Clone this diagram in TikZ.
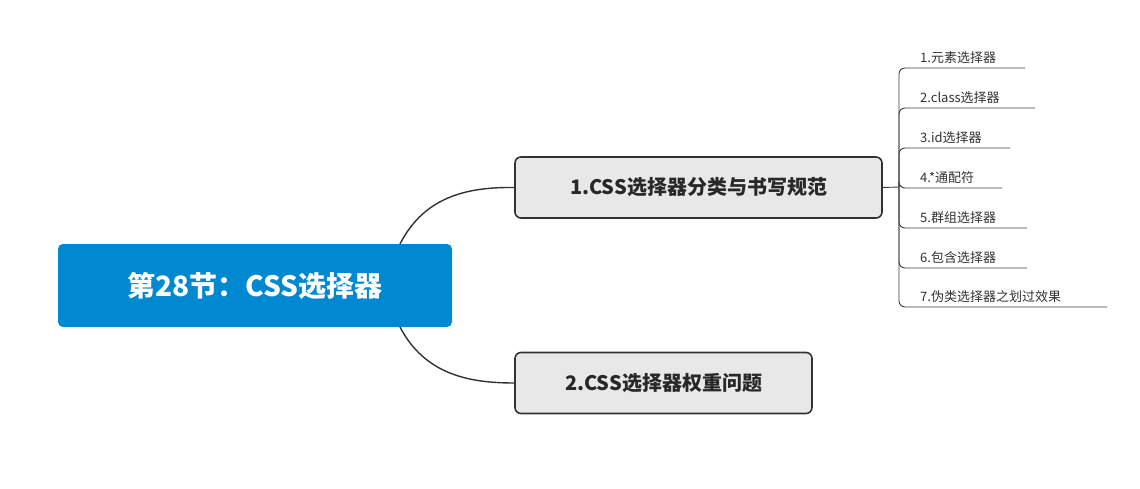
\documentclass[tikz,border=0pt]{standalone}
\usepackage{fontspec}
\setmainfont{Noto Sans CJK SC}
\begin{document}
\begin{tikzpicture}[x=1pt,y=-1pt,
  rootbox/.style={draw=none,fill={rgb,255:red,0;green,136;blue,209},rounded corners=5pt,minimum width=394pt,minimum height=83pt,text=white,font=\fontsize{28}{32}\selectfont\bfseries},
  subbox/.style={draw={rgb,255:red,50;green,50;blue,50},line width=1.6pt,fill={rgb,255:red,232;green,232;blue,232},rounded corners=6pt,minimum height=61pt,font=\fontsize{20}{24}\selectfont\bfseries,text={rgb,255:red,40;green,40;blue,40}},
  conn/.style={draw={rgb,255:red,50;green,50;blue,50},line width=1.4pt},
  leafline/.style={draw={rgb,255:red,60;green,60;blue,60},line width=0.9pt,rounded corners=6pt},
  leaftext/.style={anchor=south west,inner sep=2pt,font=\fontsize{13}{15}\selectfont,text={rgb,255:red,50;green,50;blue,50}}]
\useasboundingbox (0,0) rectangle (1140,489);
\node[rootbox] (root) at (255,285.5) {第28节：CSS选择器};
\node[subbox,minimum width=367pt] (c1) at (698.5,187.5) {1.CSS选择器分类与书写规范};
\node[subbox,minimum width=297pt] (c2) at (663.5,383) {2.CSS选择器权重问题};
\coordinate (r1) at (400,244);
\coordinate (r2) at (400,327);
\draw[conn] (r1) .. controls (425,195) and (470,187) .. (c1.west);
\draw[conn] (r2) .. controls (425,375) and (470,383) .. (c2.west);
\coordinate (hub) at (899,187);
\draw[leafline] (c1.east) -- (hub);
\foreach \y/\xe/\t [count=\i] in {68/1025/1.元素选择器,108/1035/2.class选择器,148/1010/3.id选择器,188/1002/4.*通配符,228/1027/5.群组选择器,268/1027/6.包含选择器,307/1107/7.伪类选择器之划过效果}{
  \coordinate (e\i) at (\xe,\y);
  \draw[leafline] (hub) -- (899,\y) -- (e\i);
  \node[leaftext] (t\i) at (918,\y-2) {\t};
}
\end{tikzpicture}
\end{document}
